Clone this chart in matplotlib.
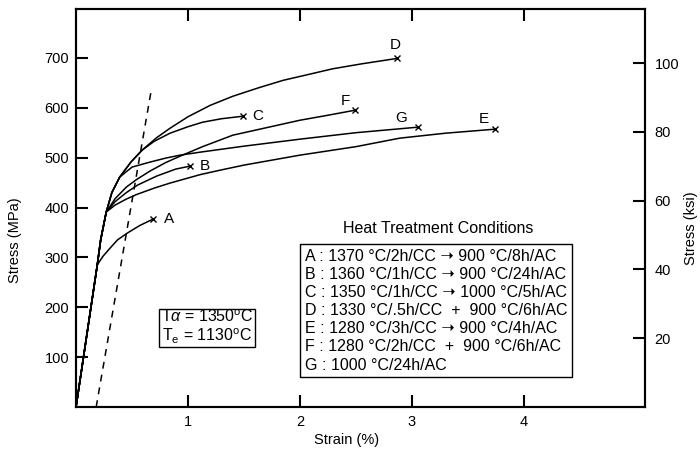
import matplotlib
matplotlib.use("Agg")
import matplotlib.pyplot as plt

plt.rcParams["font.family"] = ["Liberation Sans", "DejaVu Sans"]
plt.rcParams["mathtext.fontset"] = "custom"
plt.rcParams["mathtext.rm"] = "Liberation Sans"
plt.rcParams["mathtext.it"] = "Liberation Sans:italic"

# stress-strain curves (strain %, stress MPa)
a_strain = [0, 0.10, 0.19, 0.24, 0.29, 0.37, 0.46, 0.57, 0.69]
a_stress = [0, 150, 285, 302, 315, 335, 349, 364, 377]

b_strain = [0, 0.10, 0.19, 0.22, 0.27, 0.35, 0.45, 0.55, 0.72, 0.89, 1.02]
b_stress = [0, 150, 285, 335, 391, 412, 430, 445, 463, 477, 483]

c_strain = [0, 0.10, 0.19, 0.22, 0.27, 0.32, 0.39, 0.49, 0.59, 0.70, 0.84,
            1.0, 1.13, 1.30, 1.49]
c_stress = [0, 150, 285, 335, 391, 430, 461, 491, 515, 533, 549,
            562, 571, 578, 583]

d_strain = [0, 0.10, 0.19, 0.22, 0.27, 0.32, 0.39, 0.49, 0.59, 0.72, 0.84,
            1.0, 1.2, 1.4, 1.63, 1.85, 2.1, 2.29, 2.55, 2.87]
d_stress = [0, 150, 285, 335, 391, 430, 461, 491, 515, 540, 559,
            582, 605, 623, 640, 655, 668, 678, 688, 699]

e_strain = [0, 0.10, 0.19, 0.22, 0.27, 0.35, 0.45, 0.54, 0.70, 0.84, 1.11,
            1.29, 1.50, 2.0, 2.5, 2.89, 3.3, 3.74]
e_stress = [0, 150, 285, 335, 391, 405, 417, 426, 439, 449, 466,
            475, 485, 505, 522, 539, 549, 557]

f_strain = [0, 0.10, 0.19, 0.22, 0.27, 0.35, 0.45, 0.54, 0.66, 0.80, 0.93,
            1.13, 1.40, 1.70, 2.0, 2.25, 2.49]
f_stress = [0, 150, 285, 335, 391, 418, 441, 456, 473, 490, 503,
            522, 545, 560, 575, 585, 595]

g_strain = [0, 0.10, 0.19, 0.22, 0.27, 0.32, 0.39, 0.50, 0.66, 0.80, 0.93,
            1.11, 1.5, 2.0, 2.5, 3.05]
g_stress = [0, 150, 285, 335, 391, 430, 461, 481, 491, 499, 505,
            511, 523, 537, 550, 561]

curve_names = ["A", "B", "C", "D", "E", "F", "G"]
curve_strains = [a_strain, b_strain, c_strain, d_strain, e_strain, f_strain, g_strain]
curve_stresses = [a_stress, b_stress, c_stress, d_stress, e_stress, f_stress, g_stress]

# 0.2% offset line
offset_strain = [0.18, 0.67]
offset_stress = [0, 633]

ARROW = "\u279d"
conditions = [
    "A : 1370 \u00b0C/2h/CC " + ARROW + " 900 \u00b0C/8h/AC",
    "B : 1360 \u00b0C/1h/CC " + ARROW + " 900 \u00b0C/24h/AC",
    "C : 1350 \u00b0C/1h/CC " + ARROW + " 1000 \u00b0C/5h/AC",
    "D : 1330 \u00b0C/.5h/CC  +  900 \u00b0C/6h/AC",
    "E : 1280 \u00b0C/3h/CC " + ARROW + " 900 \u00b0C/4h/AC",
    "F : 1280 \u00b0C/2h/CC  +  900 \u00b0C/6h/AC",
    "G : 1000 \u00b0C/24h/AC",
]

x_ticks = [1, 2, 3, 4]
mpa_ticks = [100, 200, 300, 400, 500, 600, 700]
ksi_ticks = [20, 40, 60, 80, 100]
MPA_PER_KSI = 6.895

# label offsets (points) relative to curve end
label_style = {
    "A": ((8, 0), "left", "center"),
    "B": ((6.5, 0), "left", "center"),
    "C": ((6.5, 0), "left", "center"),
    "D": ((-1.5, 9.5), "center", "center"),
    "E": ((-8, 7), "center", "center"),
    "F": ((-6.5, 7), "center", "center"),
    "G": ((-12, 6.5), "center", "center"),
}

fig = plt.figure(figsize=(7.0, 4.49), dpi=100)
ax = fig.add_axes([0.1086, 0.0935, 0.8128, 0.8865])

for name, xs, ys in zip(curve_names, curve_strains, curve_stresses):
    ax.plot(xs, ys, color="black", lw=1.1, solid_joinstyle="round")
    ax.plot(xs[-1], ys[-1], marker="x", color="black", ms=4, mew=1.0)
    off, ha, va = label_style[name]
    ax.annotate(name, (xs[-1], ys[-1]), xytext=off, textcoords="offset points",
                ha=ha, va=va, fontsize=11)

ax.plot(offset_strain, offset_stress, color="black", lw=1.1,
        linestyle=(0, (4.5, 4)))

ax.set_xlim(0, 5.08)
ax.set_ylim(0, 798)
ax.set_xticks(x_ticks)
ax.set_yticks(mpa_ticks)
ax.tick_params(direction="in", length=8.5, width=1.5, labelsize=10.5,
               top=True, bottom=True, left=True, right=False)
ax.tick_params(axis="x", pad=6)
ax.tick_params(axis="y", pad=5)
for s in ax.spines.values():
    s.set_linewidth(1.5)

ax.set_xlabel("Strain (%)", fontsize=10.5)
ax.xaxis.set_label_coords(0.476, -0.066)
ax.set_ylabel("Stress (MPa)", fontsize=10.5)
ax.yaxis.set_label_coords(-0.095, 0.42)

ax2 = ax.twinx()
ax2.set_ylim(0, 798 / MPA_PER_KSI)
ax2.set_yticks(ksi_ticks)
ax2.tick_params(direction="in", length=8.5, width=1.5, labelsize=10.5, pad=7)
ax2.set_ylabel("Stress (ksi)", fontsize=10.5)
ax2.yaxis.set_label_coords(1.068, 0.45)
for s in ax2.spines.values():
    s.set_linewidth(1.5)

# heat treatment table
ax.text(3.23, 357, "Heat Treatment Conditions", ha="center", va="center",
        fontsize=11.5)
ax.text(2.045, 193, "\n".join(conditions), ha="left", va="center",
        fontsize=11.5, linespacing=1.26,
        bbox=dict(boxstyle="square,pad=0.3", fc="white", ec="black", lw=1.0))

ax.text(1.17, 160, "T$\\it{\\alpha}$ = 1350$^{\\rm o}$C\nT$_{\\rm e}$ = 1130$^{\\rm o}$C",
        ha="center", va="center", fontsize=11.5, linespacing=1.05,
        bbox=dict(boxstyle="square,pad=0.12", fc="white", ec="black", lw=1.0))

fig.savefig("out.png", dpi=100)
